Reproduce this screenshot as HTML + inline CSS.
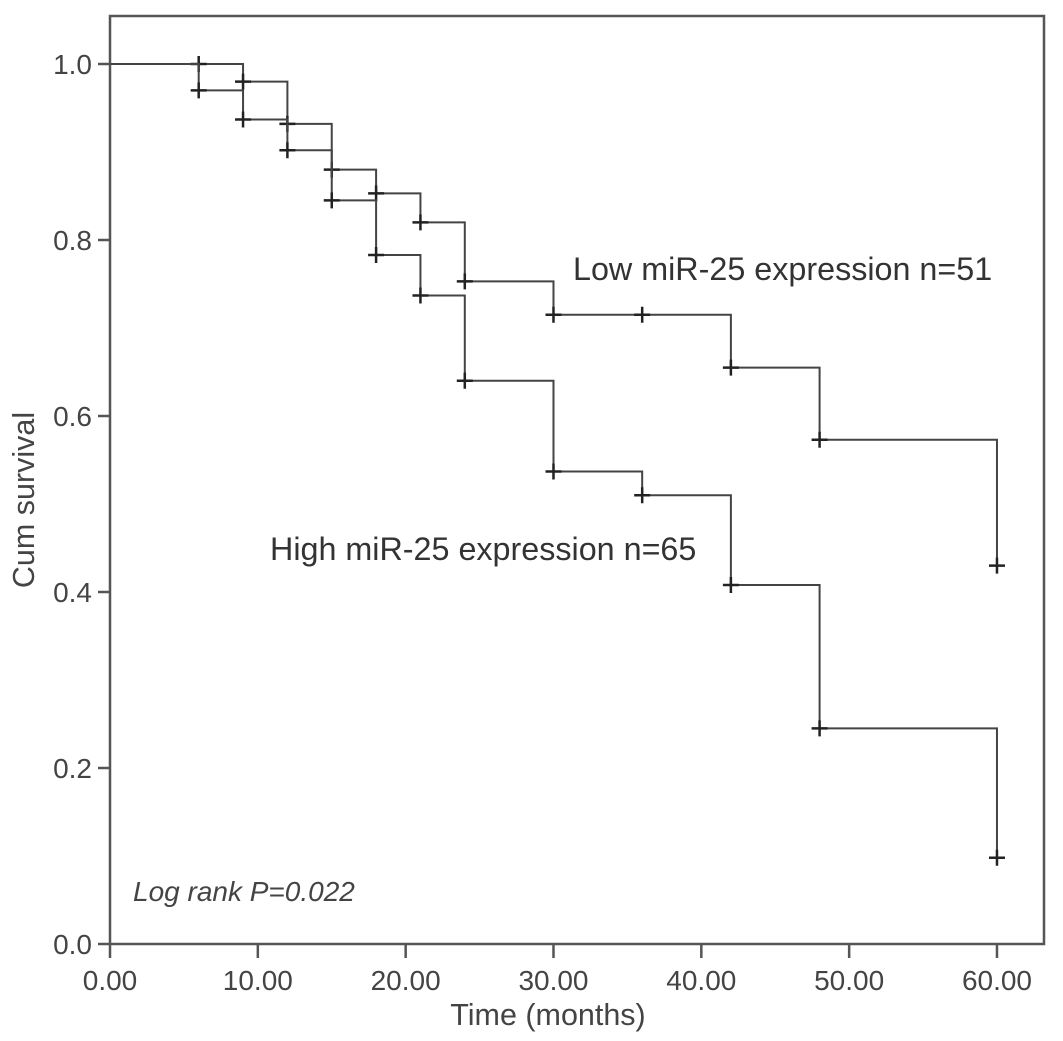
<!DOCTYPE html>
<html><head><meta charset="utf-8"><style>
body{margin:0;background:#fff}
svg{display:block;font-family:"Liberation Sans",sans-serif}
</style></head><body>
<svg id="chart" width="1063" height="1041">
<rect x="110" y="16" width="934" height="928" fill="none" stroke="#555" stroke-width="2.5"/>
<g id="axes"></g>
<g id="series"></g>
<text x="573" y="280" font-size="32.3" fill="#333">Low miR-25 expression n=51</text>
<text x="270" y="560" font-size="32.3" fill="#333">High miR-25 expression n=65</text>
<text x="133" y="901" font-size="28" font-style="italic" fill="#444">Log rank P=0.022</text>
<text x="548" y="1025" font-size="30.5" fill="#444" text-anchor="middle">Time (months)</text>
<text transform="translate(34,500) rotate(-90)" font-size="30.5" fill="#444" text-anchor="middle">Cum survival</text>
</svg>
<script>
const xTicks=[0,10,20,30,40,50,60];
const yTicks=[0,0.2,0.4,0.6,0.8,1.0];
const lowTimes=[0,9,12,15,18,21,24,30,42,48,60];
const lowSurv=[1.0,0.98,0.932,0.88,0.853,0.82,0.753,0.715,0.655,0.573,0.43];
const lowCensor=[6,9,12,15,18,21,24,30,36,42,48,60];
const highTimes=[0,6,9,12,15,18,21,24,30,36,42,48,60];
const highSurv=[1.0,0.97,0.937,0.902,0.845,0.783,0.737,0.64,0.537,0.51,0.408,0.245,0.098];
const highCensor=[6,9,12,15,18,21,24,30,36,42,48,60];
const X=t=>110+t*14.783;
const Y=v=>944-v*880;
const NS='http://www.w3.org/2000/svg';
const axes=document.getElementById('axes'),series=document.getElementById('series');
function mk(tag,attrs,parent){const e=document.createElementNS(NS,tag);for(const k in attrs)e.setAttribute(k,attrs[k]);parent.appendChild(e);return e;}
xTicks.forEach(t=>{
 const l=mk('line',{x1:X(t),x2:X(t),y1:944,y2:958,stroke:'#555','stroke-width':2.5},axes);
 
 
 const tx=mk('text',{x:X(t),y:990,'font-size':28,fill:'#444','text-anchor':'middle'},axes);
 tx.textContent=t.toFixed(2);
 
 
});
yTicks.forEach(v=>{
 const l=mk('line',{x1:98,x2:110,y1:Y(v),y2:Y(v),stroke:'#555','stroke-width':2.5},axes);
 
 
 const tx=mk('text',{x:92,y:Y(v)+10,'font-size':28,fill:'#444','text-anchor':'end'},axes);
 tx.textContent=v.toFixed(1);
 
 
});
function level(times,surv,t){let s=surv[0];for(let i=0;i<times.length;i++)if(times[i]<=t)s=surv[i];return s;}
function draw(times,surv,censor,name){
 let d='M'+X(times[0])+','+Y(surv[0]);
 for(let i=1;i<times.length;i++){d+='H'+X(times[i])+'V'+Y(surv[i]);}
 const p=mk('path',{d:d,fill:'none',stroke:'#444','stroke-width':2},series);
 
 
 censor.forEach(t=>{
  const cx=X(t),cy=Y(level(times,surv,t));
  const c=mk('path',{d:`M${cx-8},${cy}H${cx+8}M${cx},${cy-8}V${cy+8}`,stroke:'#222','stroke-width':2.5},series);
  
  
 });
}
draw(lowTimes,lowSurv,lowCensor,'low-mir25');
draw(highTimes,highSurv,highCensor,'high-mir25');
</script>
</body></html>
